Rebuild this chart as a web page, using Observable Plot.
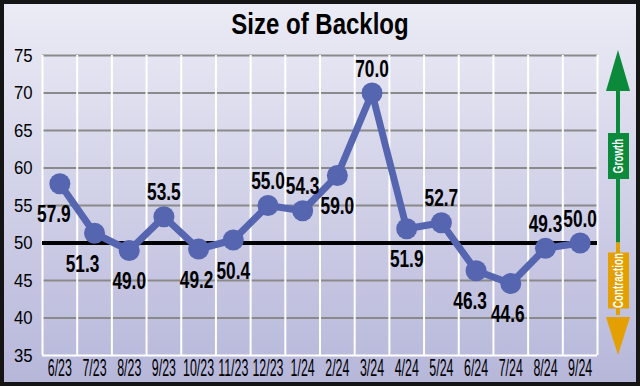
<!DOCTYPE html>
<html>
<head>
<meta charset="utf-8">
<script src="https://cdn.jsdelivr.net/npm/d3@7"></script>
<script src="https://cdn.jsdelivr.net/npm/@observablehq/plot@0.6"></script>
<style>
  html, body { margin: 0; padding: 0; }
  #wrap {
    position: relative; width: 640px; height: 386px; overflow: hidden;
    background: linear-gradient(#ececf6, #b6b6da);
    font-family: "Liberation Sans", Arial, sans-serif;
  }
  #title {
    position: absolute; top: 6px; left: 0; width: 640px; text-align: center;
    font-size: 30px; font-weight: bold; color: #000; line-height: 36px;
    transform: scaleX(0.8); transform-origin: 320px 0;
  }
  #chart { position: absolute; top: 0; left: 0; }
  #frame {
    position: absolute; top: 0; left: 0; width: 640px; height: 386px; box-sizing: border-box;
    border: 4px solid #151515; pointer-events: none;
  }
</style>
</head>
<body>
<div id="wrap">
  <div id="chart"></div>
  <div id="title">Size of Backlog</div>
  <div id="frame"></div>
</div>
<script>
const months = ["6/23","7/23","8/23","9/23","10/23","11/23","12/23","1/24","2/24","3/24","4/24","5/24","6/24","7/24","8/24","9/24"];
const values = [57.9, 51.3, 49.0, 53.5, 49.2, 50.4, 55.0, 54.3, 59.0, 70.0, 51.9, 52.7, 46.3, 44.6, 49.3, 50.0];
const labelPlacement = ["below","below","below","above","below","below","above","above","below","above","below","above","below","below","above","above"];
const labelNudge = [-6, -12, 0, 0, -2, 0, 0, 0, 0, 0, 0, 0, -6, -3, 0, 0];
const yTicks = [35, 40, 45, 50, 55, 60, 65, 70, 75];
const baseline = 50;
const zoneLabels = ["Growth", "Contraction"];

const data = months.map((m, i) => ({i, month: m, value: values[i], place: labelPlacement[i], nudge: labelNudge[i]}));
const font = '"Liberation Sans", Arial, sans-serif';
const lineColor = "#5565b0";

const plot = Plot.plot({
  width: 640,
  height: 386,
  marginLeft: 42,
  marginRight: 43,
  marginTop: 55,
  marginBottom: 31,
  style: {background: "transparent", fontFamily: font, color: "#000", overflow: "visible"},
  x: {type: "linear", domain: [-0.5, months.length - 0.5], axis: null},
  y: {domain: [35, 75], axis: null},
  marks: [
    Plot.ruleY(yTicks.slice(1), {stroke: "#8a8a8a", strokeWidth: 2}),
    Plot.ruleX(d3.range(months.length + 1).map(k => k - 0.5), {stroke: "#ffffff", strokeWidth: 2}),
    Plot.ruleY([yTicks[0]], {stroke: "#ffffff", strokeWidth: 2}),
    Plot.ruleY([baseline], {stroke: "#000", strokeWidth: 4}),
    Plot.line(data, {x: "i", y: "value", stroke: lineColor, strokeWidth: 7, strokeLinejoin: "round"}),
    Plot.dot(data, {x: "i", y: "value", r: 10.5, fill: lineColor, stroke: "none"}),
    Plot.text(data.filter(d => d.place === "above"), {
      x: "i", y: "value", text: d => d.value.toFixed(1), dy: -24,
      fontSize: 24, fontWeight: "bold", fill: "#000"
    }),
    Plot.text(data.filter(d => d.place === "below"), {
      x: "i", y: "value", text: d => d.value.toFixed(1), dy: 31,
      fontSize: 24, fontWeight: "bold", fill: "#000"
    }),
    Plot.axisX(d3.range(months.length), {
      tickFormat: i => months[i], tickSize: 0, tickPadding: 4, fontSize: 23, fill: "#000",
      stroke: "#000", strokeWidth: 0.65, label: null
    }),
    Plot.axisY(yTicks, {
      tickSize: 0, tickPadding: 10, fontSize: 19, fill: "#000",
      stroke: "#000", strokeWidth: 0.55, label: null
    })
  ]
});
document.getElementById("chart").appendChild(plot);

// condense text horizontally (the reference uses a condensed face)
function condense(sel, s, nudges) {
  sel.each(function(_, k) {
    const t = d3.select(this);
    let tr = t.attr("transform");
    if (!tr) {
      const x = +t.attr("x") || 0, y = +t.attr("y") || 0;
      t.attr("x", null).attr("y", null);
      tr = `translate(${x},${y})`;
    }
    const dx = nudges ? nudges[k] : 0;
    t.attr("transform", `translate(${dx},0) ${tr} scale(${s},1)`);
  });
}
const svg = d3.select(plot);
const labelGroups = svg.selectAll('g[font-size="24"]').nodes();
const aboveData = data.filter(d => d.place === "above"), belowData = data.filter(d => d.place === "below");
condense(d3.select(labelGroups[0]).selectAll("text"), 0.72, aboveData.map(d => d.nudge));
condense(d3.select(labelGroups[1]).selectAll("text"), 0.72, belowData.map(d => d.nudge));
condense(svg.selectAll('g[aria-label="x-axis tick label"] text'), 0.54);
condense(svg.selectAll('g[aria-label="y-axis tick label"] text'), 0.88);

// Growth / Contraction indicator positioned from the y scale
const ys = plot.scale("y");
const yTop = ys.apply(75), yMid = ys.apply(baseline), yBot = ys.apply(35);
const ax = 618, green = "#0b8a3c", orange = "#e3a000";
const g = svg.append("g");
g.append("rect").attr("x", ax - 2).attr("y", yTop + 30).attr("width", 4).attr("height", yMid - yTop - 30).attr("fill", green);
g.append("path").attr("d", `M${ax},${yTop - 5} L${ax + 12},${yTop + 36} L${ax - 12},${yTop + 36} Z`).attr("fill", green);
g.append("rect").attr("x", ax - 2).attr("y", yMid).attr("width", 4).attr("height", yBot - yMid - 40).attr("fill", orange);
g.append("path").attr("d", `M${ax},${yBot} L${ax + 12},${yBot - 38} L${ax - 12},${yBot - 38} Z`).attr("fill", orange);
const gy = yTop + 78, cy = yMid + 10;
g.append("rect").attr("x", ax - 10).attr("y", gy).attr("width", 21).attr("height", 46).attr("fill", green);
g.append("rect").attr("x", ax - 10).attr("y", cy).attr("width", 21).attr("height", 56).attr("fill", orange);
g.append("text").attr("transform", `translate(${ax + 5},${gy + 23}) rotate(-90) scale(0.7,1)`)
  .attr("text-anchor", "middle").attr("fill", "#fff").attr("font-size", 14).attr("font-weight", "bold")
  .attr("font-family", font).text(zoneLabels[0]);
g.append("text").attr("transform", `translate(${ax + 5},${cy + 28}) rotate(-90) scale(0.7,1)`)
  .attr("text-anchor", "middle").attr("fill", "#fff").attr("font-size", 14).attr("font-weight", "bold")
  .attr("font-family", font).text(zoneLabels[1]);
</script>
</body>
</html>
